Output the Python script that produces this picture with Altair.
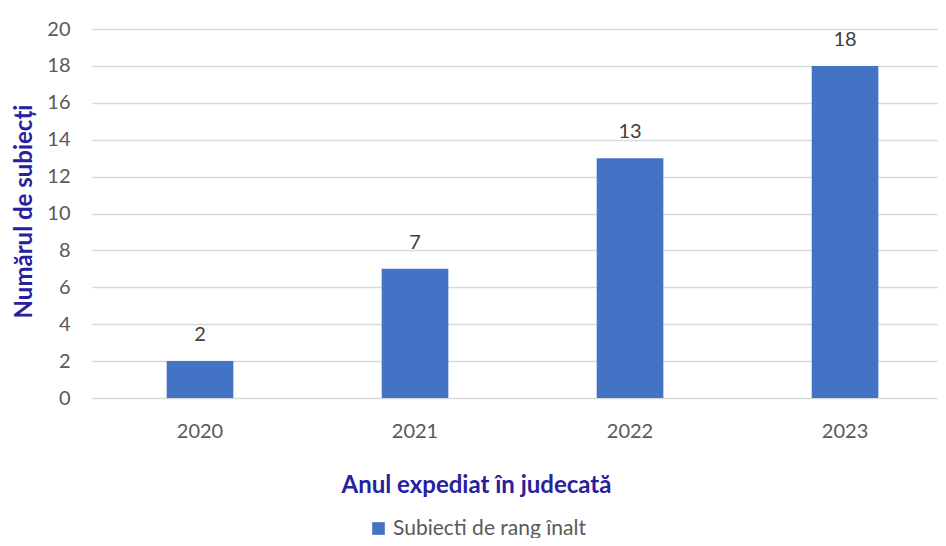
import altair as alt
import pandas as pd

years = ["2020", "2021", "2022", "2023"]
values = [2, 7, 13, 18]
series = "Subiecti de rang înalt"
y_ticks = [0, 2, 4, 6, 8, 10, 12, 14, 16, 18, 20]

df = pd.DataFrame({"an": years, "val": values, "serie": [series] * len(years)})

FONT = "Lato"
TITLE_COLOR = "#26219E"
LABEL_COLOR = "#595959"
BAR_COLOR = "#4472C4"

x_enc = alt.X(
    "an:N",
    sort=years,
    scale=alt.Scale(paddingInner=0.69, paddingOuter=0.3124, align=0.556),
    axis=alt.Axis(
        title="Anul expediat în judecată",
        labelAngle=0,
        labelFont=FONT,
        labelFontSize=20,
        labelColor=LABEL_COLOR,
        labelPadding=23,
        ticks=False,
        domain=False,
        grid=False,
        titleFont=FONT,
        titleFontSize=24,
        titleFontWeight="bold",
        titleColor=TITLE_COLOR,
        titleX=384,
        titleY=87,
        titleAlign="center",
        titleBaseline="middle",
    ),
)

y_enc = alt.Y(
    "val:Q",
    scale=alt.Scale(domain=[0, 20], nice=False),
    axis=alt.Axis(
        title="Numărul de subiecți",
        values=y_ticks,
        labelOverlap=False,
        labelFont=FONT,
        labelFontSize=20,
        labelColor=LABEL_COLOR,
        labelPadding=22,
        ticks=False,
        domain=False,
        gridColor="#D9D9D9",
        gridWidth=1.5,
        titleFont=FONT,
        titleFontSize=24,
        titleFontWeight="bold",
        titleColor=TITLE_COLOR,
        titleX=-68,
        titleY=182,
        titleAngle=270,
        titleAlign="center",
        titleBaseline="middle",
    ),
)

base = alt.Chart(df)

bars = base.mark_bar(color=BAR_COLOR).encode(
    x=x_enc,
    y=y_enc,
    fill=alt.Fill(
        "serie:N",
        scale=alt.Scale(domain=[series], range=[BAR_COLOR]),
        legend=alt.Legend(
            title=None,
            orient="none",
            legendX=276,
            legendY=489,
            symbolType="square",
            symbolSize=160,
            symbolStrokeWidth=0,
            labelFont=FONT,
            labelFontSize=21,
            labelColor=LABEL_COLOR,
            labelOffset=4,
            labelLimit=400,
        ),
    ),
)

labels = base.mark_text(
    font=FONT, fontSize=20, color="#404040", dy=-26, baseline="middle"
).encode(
    x=x_enc,
    y=y_enc,
    text="val:Q",
)

chart = (
    alt.layer(bars, labels)
    .properties(
        width=846,
        height=369,
        autosize=alt.AutoSizeParams(type="none"),
        padding={"left": 84, "top": 21, "right": 0, "bottom": 140},
    )
    .configure(background="white")
    .configure_view(strokeWidth=0, stroke="transparent")
)

chart.save("out.html", embed_options={"renderer": "svg", "actions": False})
